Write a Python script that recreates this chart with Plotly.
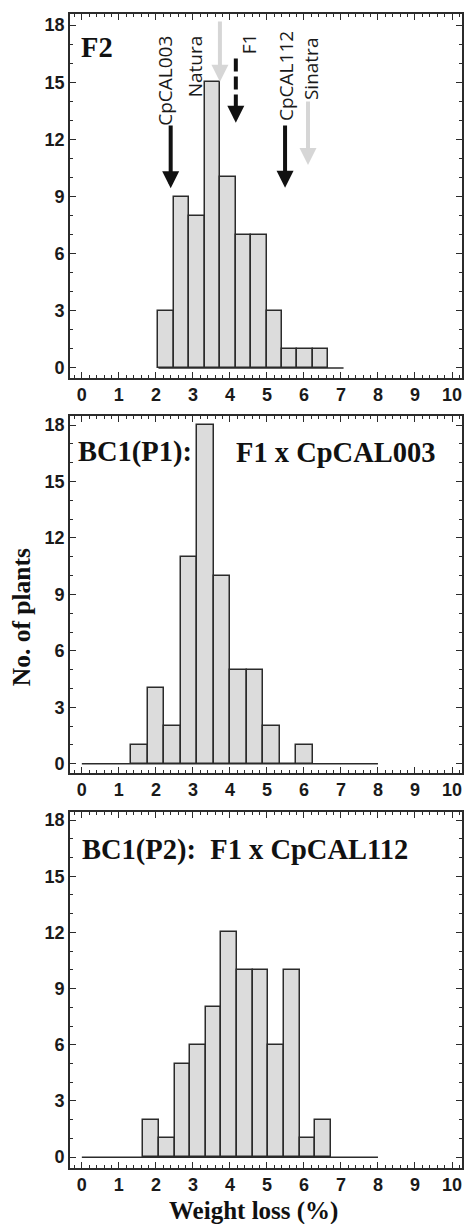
import plotly.graph_objects as go

# ---------------- data ----------------
# F2 histogram
f2_bin_start = 2.07
f2_bin_width = 0.417
f2_counts = [3, 9, 8, 15, 10, 7, 7, 3, 1, 1, 1]
f2_baseline = [2.07, 7.07]

# BC1(P1): F1 x CpCAL003
p1_bin_start = 1.34
p1_bin_width = 0.445
p1_counts = [1, 4, 2, 11, 18, 10, 5, 5, 2, 0, 1]
p1_baseline = [0, 8]

# BC1(P2): F1 x CpCAL112
p2_bin_start = 1.66
p2_bin_width = 0.4225
p2_counts = [2, 1, 5, 6, 8, 12, 10, 10, 6, 10, 1, 2]
p2_baseline = [0, 8]

# parental / F1 markers in the F2 panel
marker_names = ["CpCAL003", "Natura", "F1", "CpCAL112", "Sinatra"]
marker_values = [2.40, 3.73, 4.16, 5.49, 6.11]
marker_tip = [9.44, 15.02, 12.87, 9.46, 10.65]
marker_tail = [12.8, 18.26, 16.25, 12.8, 14.06]
marker_colors = ["#111111", "#d6d6d6", "#111111", "#111111", "#d6d6d6"]
marker_dashed = [False, False, True, False, False]
label_x = [2.24, 3.06, 4.52, 5.50, 6.19]
label_y = [15.06, 15.84, 17.0, 15.35, 15.74]

x_ticks = list(range(0, 11))
y_ticks = [0, 3, 6, 9, 12, 15, 18]

# ---------------- figure ----------------
W, H = 466, 1224
ML, MR, MT, MB = 70, 2, 14, 56
fig = go.Figure()

panels = [
    dict(start=f2_bin_start, width=f2_bin_width, counts=f2_counts, base=f2_baseline,
         xa="x", ya="y", dom=[0.6846, 1.0], yr=[-0.525, 18.58]),
    dict(start=p1_bin_start, width=p1_bin_width, counts=p1_counts, base=p1_baseline,
         xa="x2", ya="y2", dom=[0.3423, 0.6516], yr=[-0.49, 18.48]),
    dict(start=p2_bin_start, width=p2_bin_width, counts=p2_counts, base=p2_baseline,
         xa="x3", ya="y3", dom=[0.0, 0.3085], yr=[-0.58, 18.43]),
]

edge = "#2b2b2b"
fill = "#dcdcdc"
tickfont = dict(family="Liberation Sans, Arial", size=18, color="#1a1a1a", weight="bold")

for i, p in enumerate(panels):
    n = len(p["counts"])
    centers = [p["start"] + p["width"] * (k + 0.5) for k in range(n)]
    fig.add_trace(go.Scatter(x=p["base"], y=[0, 0], mode="lines",
                             line=dict(color=edge, width=1.5),
                             xaxis=p["xa"], yaxis=p["ya"], showlegend=False, hoverinfo="skip"))
    fig.add_trace(go.Bar(x=centers, y=p["counts"], width=p["width"],
                         marker=dict(color=fill, line=dict(color=edge, width=1.5)),
                         xaxis=p["xa"], yaxis=p["ya"], showlegend=False))
    sfx = "" if i == 0 else str(i + 1)
    fig.layout["xaxis" + sfx] = dict(
        domain=[0, 1], anchor="y" + sfx, range=[-0.32, 10.27],
        tickvals=x_ticks, ticks="inside", ticklen=6, tickwidth=1.3, tickcolor=edge,
        minor=dict(dtick=0.2, tick0=0, ticks="inside", ticklen=3, tickwidth=1, tickcolor=edge),
        showline=True, linecolor=edge, linewidth=1.6, mirror="ticks",
        showgrid=False, zeroline=False, tickfont=tickfont, ticklabelstandoff=0,
        fixedrange=True)
    fig.layout["yaxis" + sfx] = dict(
        domain=p["dom"], anchor="x" + sfx, range=p["yr"],
        tickvals=y_ticks, ticks="inside", ticklen=6, tickwidth=1.3, tickcolor=edge,
        minor=dict(dtick=1, tick0=0, ticks="inside", ticklen=3, tickwidth=1, tickcolor=edge),
        showline=True, linecolor=edge, linewidth=1.6, mirror="ticks",
        showgrid=False, zeroline=False, tickfont=tickfont, ticklabelstandoff=0,
        fixedrange=True)

# arrows for parents / F1
annotations = []
for name, v, tip, tail, col, dashed, lx, ly in zip(marker_names, marker_values, marker_tip,
                                                     marker_tail, marker_colors, marker_dashed,
                                                     label_x, label_y):
    if dashed:
        head_len = 0.85
        fig.add_trace(go.Scatter(x=[v, v], y=[tail, tip + head_len], mode="lines",
                                 line=dict(color=col, width=4, dash="13px,5px"),
                                 xaxis="x", yaxis="y", showlegend=False, hoverinfo="skip"))
        annotations.append(dict(x=v, y=tip, xref="x", yref="y", ax=0, ay=-17,
                                showarrow=True, arrowhead=2, arrowwidth=4, arrowsize=0.85,
                                arrowcolor=col, text="", standoff=0))
    else:
        annotations.append(dict(x=v, y=tip, xref="x", yref="y", ax=v, ay=tail,
                                axref="x", ayref="y", showarrow=True, arrowhead=2,
                                arrowwidth=4, arrowsize=0.85, arrowcolor=col, text="",
                                standoff=0))
    annotations.append(dict(x=lx, y=ly, xref="x", yref="y", text=name, textangle=-90,
                            showarrow=False, xanchor="center", yanchor="middle",
                            font=dict(family="Open Sans", size=19, color="#1a1a1a")))

serif_bold = dict(family="Liberation Serif, Times New Roman", size=28.5, color="#111111", weight="bold")
annotations += [
    dict(x=(79 - ML) / 394, y=0.9066, xref="x domain", yref="y domain", text="F2",
         showarrow=False, xanchor="left", yanchor="middle", font=serif_bold),
    dict(x=(76 - ML) / 394, y=0.899, xref="x2 domain", yref="y2 domain", text="BC1(P1):",
         showarrow=False, xanchor="left", yanchor="middle", font=serif_bold),
    dict(x=(235 - ML) / 394, y=0.899, xref="x2 domain", yref="y2 domain", text="F1 x CpCAL003",
         showarrow=False, xanchor="left", yanchor="middle", font=serif_bold),
    dict(x=(80 - ML) / 394, y=0.893, xref="x3 domain", yref="y3 domain",
         text="BC1(P2):\u00a0\u00a0F1 x CpCAL112",
         showarrow=False, xanchor="left", yanchor="middle", font=serif_bold),
    dict(x=(254 - ML) / 394, y=-(MB + 3) / 1154, xref="paper", yref="paper",
         text="Weight loss (%)", showarrow=False, xanchor="center", yanchor="bottom",
         font=dict(family="Liberation Serif, Times New Roman", size=25, color="#111111", weight="bold")),
    dict(x=(21 - ML) / 394, y=(1168 - 617) / 1154, xref="paper", yref="paper",
         text="No. of plants", textangle=-90, showarrow=False, xanchor="center", yanchor="middle",
         font=dict(family="Liberation Serif, Times New Roman", size=25.5, color="#111111", weight="bold")),
]

fig.update_layout(
    width=W, height=H, margin=dict(l=ML, r=MR, t=MT, b=MB),
    paper_bgcolor="white", plot_bgcolor="white",
    bargap=0, annotations=annotations, showlegend=False,
)

fig.write_html("out.html", config={"displayModeBar": False},
               post_script="document.body.style.margin='0';document.body.style.padding='0';")
